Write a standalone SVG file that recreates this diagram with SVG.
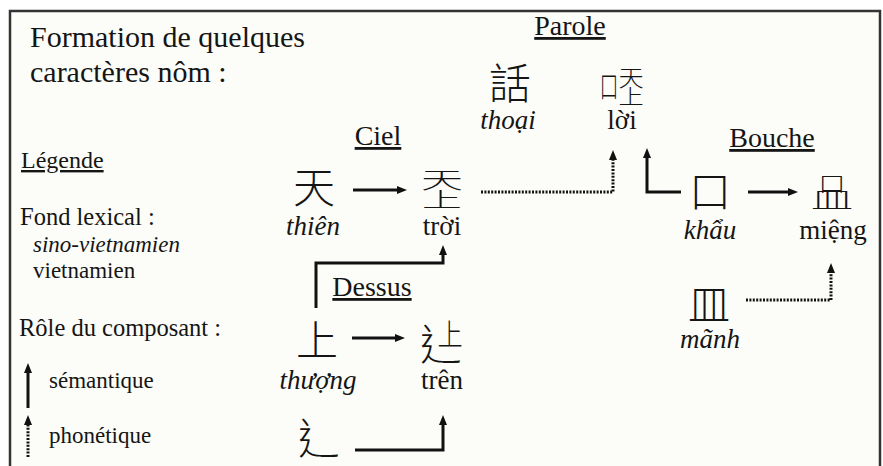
<svg xmlns="http://www.w3.org/2000/svg" width="883" height="466" viewBox="0 0 883 466">
<style>
.t{fill:#151515}
.i{font-style:italic}
.u{text-decoration:underline}
.m{text-anchor:middle}
.cjk{font-family:"Noto Sans CJK TC","Noto Sans CJK SC","Noto Sans CJK JP",sans-serif;font-size:42px;font-weight:300;fill:#151515;text-anchor:middle}
.r{font-size:27px}
.c{fill:none;stroke:#111;stroke-width:3}
.d{stroke-dasharray:2 1.4}
</style>
<defs>
<marker id="ah" viewBox="0 0 10 10" refX="3" refY="5" markerWidth="10" markerHeight="10" markerUnits="userSpaceOnUse" orient="auto">
<path d="M0,1 L10,5 L0,9 z" fill="#111"/>
</marker>
</defs>
<rect width="883" height="466" fill="#ffffff"/>
<rect x="10" y="11" width="870" height="470" fill="#fcfdf8" stroke="#333" stroke-width="2.5"/>

<g font-family="'Liberation Serif', 'Times New Roman', 'DejaVu Serif', serif">
<g id="title">
<text class="t" x="30" y="47" font-size="30">Formation de quelques</text>
<text class="t" x="30" y="82" font-size="30">caractères nôm :</text>
</g>

<g id="legend">
<text class="t u" x="21" y="168" font-size="24">Légende</text>
<text class="t" x="20" y="225" font-size="24.5">Fond lexical :</text>
<text class="t i" x="33" y="252" font-size="23">sino-vietnamien</text>
<text class="t" x="33" y="278" font-size="23">vietnamien</text>
<text class="t" x="19" y="336" font-size="24.5">Rôle du composant :</text>
<text class="t" x="49" y="388" font-size="23">sémantique</text>
<text class="t" x="49" y="443" font-size="23">phonétique</text>
</g>

<g id="labels">
<text class="t u m" x="570" y="35" font-size="28">Parole</text>
<text class="t u m" x="378" y="145" font-size="28">Ciel</text>
<text class="t u m" x="772" y="147" font-size="28">Bouche</text>
<text class="t u m" x="372" y="296" font-size="28">Dessus</text>
</g>

<g id="node-thien"><text class="cjk" x="314" y="203">天</text><text class="t i m r" x="313" y="235">thiên</text></g>
<g id="node-troi">
<text class="cjk" transform="translate(442,187.6) scale(1,0.55)">天</text>
<text class="cjk" transform="translate(442,207) scale(0.95,0.5)">上</text>
<text class="t m r" x="442" y="235">trời</text></g>
<g id="node-thoai"><text class="cjk" x="510" y="99">話</text><text class="t i m r" x="508" y="129">thoại</text></g>
<g id="node-loi">
<text class="cjk" transform="translate(609,96.5) scale(0.45,0.7)">口</text>
<text class="cjk" transform="translate(631,85.6) scale(0.6,0.55)">天</text>
<text class="cjk" transform="translate(631,104) scale(0.6,0.5)">上</text>
<text class="t m r" x="622" y="129">lời</text></g>
<g id="node-khau"><text class="cjk" x="710" y="207">口</text><text class="t i m r" x="710" y="239">khẩu</text></g>
<g id="node-mieng">
<text class="cjk" transform="translate(832,190.5) scale(0.65,0.5)">口</text>
<text class="cjk" transform="translate(832,208.4) scale(1,0.55)">皿</text>
<text class="t m r" x="833" y="239">miệng</text></g>
<g id="node-manh"><text class="cjk" x="709" y="320">皿</text><text class="t i m r" x="710" y="348">mãnh</text></g>
<g id="node-thuong"><text class="cjk" x="317" y="356">上</text><text class="t i m r" x="318" y="389">thượng</text></g>
<g id="node-tren">
<text class="cjk" x="441" y="360">辶</text>
<text class="cjk" transform="translate(450,345) scale(0.6,0.7)">上</text>
<text class="t m r" x="442" y="389">trên</text></g>
<g id="node-suoc"><text class="cjk" x="319" y="454">辶</text></g>
</g>

<g id="connectors">
<path class="c" d="M353,190 H400" marker-end="url(#ah)"/>
<path class="c" d="M352,338 H398" marker-end="url(#ah)"/>
<path class="c" d="M748,192 H791" marker-end="url(#ah)"/>
<path class="c d" d="M481,192 H613 V157" marker-end="url(#ah)"/>
<path class="c" d="M681,192 H647 V155" marker-end="url(#ah)"/>
<path class="c d" d="M746,300 H831 V270" marker-end="url(#ah)"/>
<path class="c" d="M316,308 V263 H443 V252" marker-end="url(#ah)"/>
<path class="c" d="M355,450 H443 V422" marker-end="url(#ah)"/>
<path class="c" d="M28,408 V370" marker-end="url(#ah)"/>
<path class="c d" d="M28,457 V422" marker-end="url(#ah)"/>
</g>
</svg>
